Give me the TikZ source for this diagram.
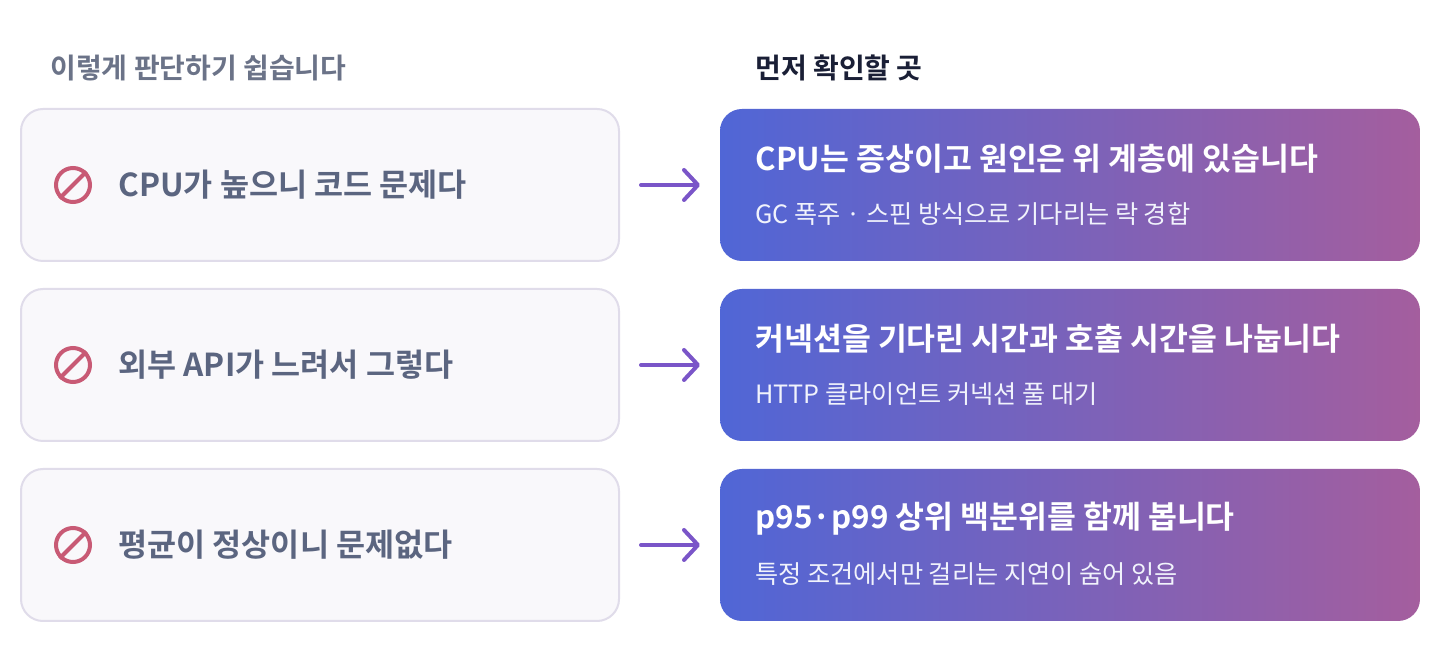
\documentclass[tikz,border=0pt]{standalone}
\usepackage{fontspec}
\setmainfont{Noto Sans CJK KR}
\newfontfamily\krbold{Noto Sans CJK KR Bold}
\usetikzlibrary{positioning, arrows.meta}
\definecolor{mythcol}{HTML}{5B6580}
\definecolor{mythfill}{HTML}{F9F8FB}
\definecolor{mythline}{HTML}{E0DCEA}
\definecolor{stopcol}{HTML}{C85A75}
\definecolor{arrowcol}{HTML}{7A55C8}
\definecolor{gradleft}{HTML}{5066D6}
\definecolor{gradright}{HTML}{A45E9E}
\definecolor{headgrey}{HTML}{6B7388}
\definecolor{headdark}{HTML}{1A1F36}
\tikzset{myth/.style =
   {rectangle,
    rounded corners=11pt,
    draw=mythline,
    line width=1pt,
    fill=mythfill,
    minimum width=299pt,
    minimum height=76pt}}
\tikzset{check/.style =
   {rectangle,
    rounded corners=11pt,
    left color=gradleft,
    right color=gradright,
    minimum width=350pt,
    minimum height=76pt}}
\tikzset{mythtext/.style = {font=\krbold\fontsize{15.8}{18}\selectfont, text=mythcol, anchor=west, inner sep=0pt}}
\tikzset{title/.style = {font=\krbold\fontsize{15.7}{18}\selectfont, text=white, anchor=west, inner sep=0pt}}
\tikzset{sub/.style = {font=\fontsize{12.6}{14}\selectfont, text=white!92!gradleft, anchor=west, inner sep=0pt}}
\tikzset{arrow/.style = {draw=arrowcol, line width=2pt, line cap=round, -{Straight Barb[length=7pt,width=15pt,line cap=round,line join=round]}}}

\begin{document}
\begin{tikzpicture}[x=0.5pt, y=-0.5pt]

    \useasboundingbox [fill=white] (0,0) rectangle (1440,672);

    \node [font=\krbold\fontsize{14}{16}\selectfont, text=headgrey, anchor=west, inner sep=0pt] (headmyth) at (50,68) {이렇게 판단하기 쉽습니다};
    \node [font=\krbold\fontsize{14}{16}\selectfont, text=headdark, anchor=west, inner sep=0pt] (headcheck) at (755,68) {먼저 확인할 곳};

    \foreach \i/\y/\myth/\title/\sub in
      {1/185/CPU가 높으니 코드 문제다/CPU는 증상이고 원인은 위 계층에 있습니다/GC 폭주 · 스핀 방식으로 기다리는 락 경합,
       2/365/외부 API가 느려서 그렇다/커넥션을 기다린 시간과 호출 시간을 나눕니다/HTTP 클라이언트 커넥션 풀 대기,
       3/545/평균이 정상이니 문제없다/p95·p99 상위 백분위를 함께 봅니다/특정 조건에서만 걸리는 지연이 숨어 있음}
    {
        \node [myth] (myth\i) at (320,\y) {};
        \node [check] (check\i) at (1070,\y) {};
        \node [circle, draw=stopcol, line width=2pt, minimum size=17pt, inner sep=0pt] (stop\i) at (73,\y) {};
        \draw [stopcol, line width=2pt] (stop\i.south west) -- (stop\i.north east);
        \node [mythtext] (mtext\i) at (118,\y) {\myth};
        \node [title] (title\i) at (755,\y-26) {\title};
        \node [sub] (sub\i) at (755,\y+29) {\sub};
        \coordinate (from\i) at (641,\y);
        \coordinate (to\i) at (700,\y);
        \draw [arrow] (from\i) -- (to\i);
    }

\end{tikzpicture}
\end{document}
